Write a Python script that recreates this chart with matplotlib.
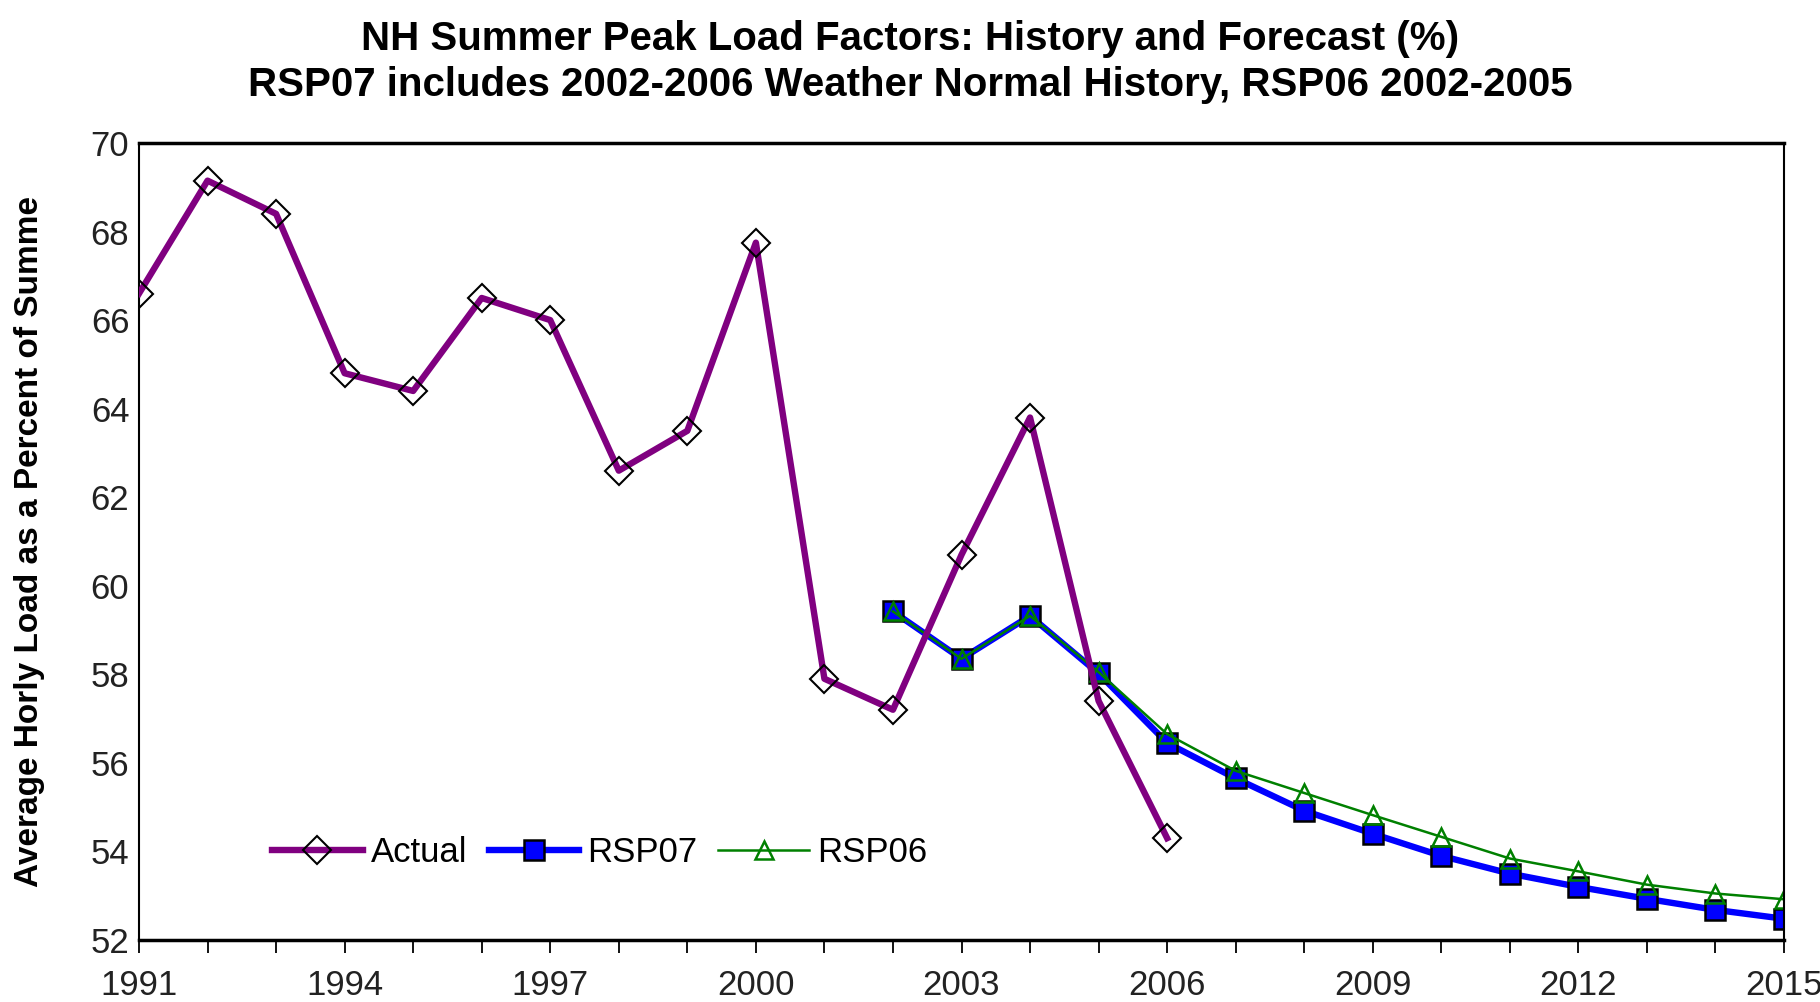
import matplotlib
matplotlib.use("Agg")
import matplotlib.pyplot as plt
from matplotlib.ticker import MultipleLocator, FixedLocator

plt.rcParams['font.family'] = ['Liberation Sans', 'DejaVu Sans']

years_actual = list(range(1991, 2007))
actual = [66.6, 69.15, 68.4, 64.8, 64.4, 66.5, 66.0, 62.6, 63.5, 67.75,
          57.9, 57.2, 60.7, 63.8, 57.4, 54.3]

years_fc = list(range(2002, 2016))
rsp07 = [59.42, 58.35, 59.32, 58.02, 56.45, 55.65, 54.92, 54.4, 53.9,
         53.5, 53.2, 52.93, 52.68, 52.48]
rsp06 = [59.42, 58.35, 59.32, 58.05, 56.65, 55.82, 55.32, 54.82, 54.33,
         53.84, 53.55, 53.25, 53.05, 52.92]

title = ("NH Summer Peak Load Factors: History and Forecast (%)\n"
         "RSP07 includes 2002-2006 Weather Normal History, RSP06 2002-2005")
ylabel = "Average Horly Load as a Percent of Summe"
xticks = [1991, 1994, 1997, 2000, 2003, 2006, 2009, 2012, 2015]
yticks = [52, 54, 56, 58, 60, 62, 64, 66, 68, 70]

fig = plt.figure(figsize=(18.2, 10.02), dpi=100)
ax = fig.add_axes([139/1820, 1 - 940/1002, (1784-139)/1820, (940-143)/1002])

ax.plot(years_actual, actual, color='#800080', lw=4.6, marker='D',
        markersize=14, markerfacecolor='none', markeredgecolor='black',
        markeredgewidth=1.5, label='Actual', zorder=3)
ax.plot(years_fc, rsp07, color='#0000FF', lw=4.6, marker='s',
        markersize=14, markerfacecolor='#0000FF', markeredgecolor='black',
        markeredgewidth=1.8, label='RSP07', zorder=2)
ax.plot(years_fc, rsp06, color='#008000', lw=1.8, marker='^',
        markersize=13, markerfacecolor='none', markeredgecolor='#008000',
        markeredgewidth=1.8, label='RSP06', zorder=2.5)

ax.set_xlim(1991, 2015)
ax.set_ylim(52, 70)
ax.xaxis.set_major_locator(FixedLocator(xticks))
ax.xaxis.set_minor_locator(MultipleLocator(1))
ax.set_yticks(yticks)
ax.tick_params(axis='x', which='both', direction='out', length=9, width=1.3,
               labelsize=25, pad=12, colors='black')
ax.tick_params(axis='y', which='both', length=0, labelsize=25, pad=7)
for lab in ax.get_xticklabels() + ax.get_yticklabels():
    lab.set_color('#222222')
for s in ax.spines.values():
    s.set_linewidth(1.5)
ax.spines['top'].set_linewidth(2.5)
ax.spines['bottom'].set_linewidth(2.5)

ax.set_ylabel(ylabel, fontsize=24, fontweight='bold')
ax.yaxis.set_label_coords(-0.057, 0.5)

fig.text(0.5, 1 - 62/1002, title, ha='center', va='center',
         fontsize=29, fontweight='bold', linespacing=1.3)

leg = ax.legend(loc='lower left', bbox_to_anchor=(0.062, 0.05), ncol=3,
                frameon=False, fontsize=25, handlelength=2.6,
                columnspacing=0.6, handletextpad=0.25)

fig.savefig('out.png', dpi=100)
